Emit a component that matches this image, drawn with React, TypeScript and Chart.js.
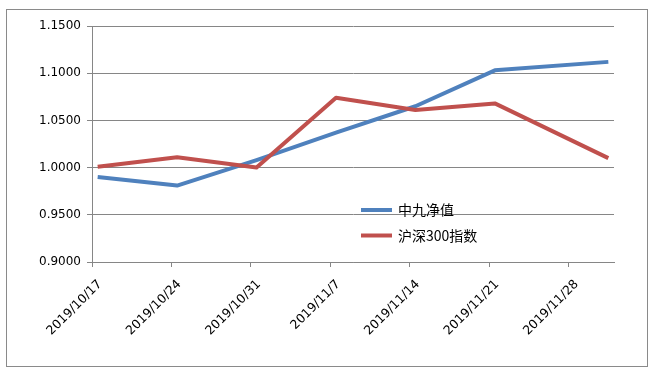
import React, { useEffect, useRef } from 'react';
import { Chart, registerables } from 'chart.js';

Chart.register(...registerables);

// ---- data ----
const dates = ['2019/10/17', '2019/10/24', '2019/10/31', '2019/11/7', '2019/11/14', '2019/11/21', '2019/12/1'];
const navValues = [0.990, 0.981, 1.008, 1.037, 1.065, 1.103, 1.112];
const hs300Values = [1.001, 1.011, 1.000, 1.074, 1.061, 1.068, 1.010];
const xTickLabels = ['2019/10/17', '2019/10/24', '2019/10/31', '2019/11/7', '2019/11/14', '2019/11/21', '2019/11/28'];
const axisEndDate = '2019/12/1';
const seriesNames = ['中九净值', '沪深300指数'];
const seriesColors = ['#4F81BD', '#C0504D'];
const yMin = 0.9;
const yMax = 1.15;
const yStep = 0.05;

const toDate = (s: string) => {
  const [y, m, d] = s.split('/').map(Number);
  return new Date(y, m - 1, d).getTime();
};
const base = toDate(dates[0]);
const dayOf = (s: string) => Math.round((toDate(s) - base) / 86400000);

const GRID = '#868686';
const FONT = '"DejaVu Sans", Verdana, sans-serif';

const borderPlugin = {
  id: 'outerBorder',
  afterDraw(chart: any) {
    const ctx = chart.ctx;
    ctx.save();
    ctx.strokeStyle = '#8a8a8a';
    ctx.lineWidth = 1;
    ctx.strokeRect(6.5, 9.5, 641, 357);
    ctx.restore();
  },
};

const legendPlugin = {
  id: 'insideLegend',
  afterDraw(chart: any) {
    const ctx = chart.ctx;
    ctx.save();
    chart.data.datasets.forEach((ds: any, i: number) => {
      const y = 210 + i * 25.5;
      ctx.strokeStyle = ds.borderColor;
      ctx.lineWidth = 4;
      ctx.beginPath();
      ctx.moveTo(361, y);
      ctx.lineTo(392, y);
      ctx.stroke();
      ctx.fillStyle = '#000';
      ctx.font = '14px "Noto Sans CJK SC", sans-serif';
      ctx.textBaseline = 'middle';
      ctx.textAlign = 'left';
      ctx.fillText(ds.label, 398, y);
    });
    ctx.restore();
  },
};

export default function App() {
  const ref = useRef<HTMLCanvasElement | null>(null);

  useEffect(() => {
    if (!ref.current) return;
    const seriesData = [navValues, hs300Values];
    const tickValues = xTickLabels.map((l) => dayOf(l) - 0.5);
    const chart = new Chart(ref.current, {
      type: 'line',
      data: {
        datasets: seriesData.map((vals, i) => ({
          label: seriesNames[i],
          data: vals.map((v, j) => ({ x: dayOf(dates[j]), y: v })),
          borderColor: seriesColors[i],
          backgroundColor: seriesColors[i],
          borderWidth: 4,
          pointRadius: 0,
          tension: 0,
          borderJoinStyle: 'round' as const,
          order: i === 0 ? 1 : 0,
        })),
      },
      options: {
        responsive: false,
        animation: false,
        layout: { padding: { top: 26, right: 40, bottom: 0, left: 0 } },
        plugins: {
          legend: { display: false },
          tooltip: { enabled: false },
        },
        scales: {
          x: {
            type: 'linear',
            min: -0.5,
            max: dayOf(axisEndDate) + 0.5,
            afterBuildTicks: (scale: any) => {
              scale.ticks = tickValues.map((v) => ({ value: v }));
            },
            afterFit: (scale: any) => {
              scale.height = 112;
            },
            grid: {
              display: true,
              drawOnChartArea: false,
              drawTicks: true,
              tickLength: 5,
              color: GRID,
            },
            border: { display: true, color: GRID },
            ticks: {
              autoSkip: false,
              minRotation: 45,
              maxRotation: 45,
              labelOffset: 8,
              padding: 10,
              color: '#000',
              font: { family: FONT, size: 12.5 },
              callback: (_v: any, idx: number) => xTickLabels[idx],
            },
          },
          y: {
            min: yMin,
            max: yMax,
            afterFit: (scale: any) => {
              scale.width = 92;
            },
            grid: {
              color: GRID,
              tickLength: 5,
              drawTicks: true,
            },
            border: { display: true, color: GRID },
            ticks: {
              stepSize: yStep,
              padding: 6,
              color: '#000',
              font: { family: FONT, size: 12 },
              callback: (v: any) => Number(v).toFixed(4),
            },
          },
        },
      },
      plugins: [borderPlugin, legendPlugin],
    });
    return () => chart.destroy();
  }, []);

  return (
    <div style={{ position: 'absolute', left: 0, top: 0, width: 654, height: 374, background: '#fff' }}>
      <canvas ref={ref} width={654} height={374} style={{ display: 'block' }} />
    </div>
  );
}
